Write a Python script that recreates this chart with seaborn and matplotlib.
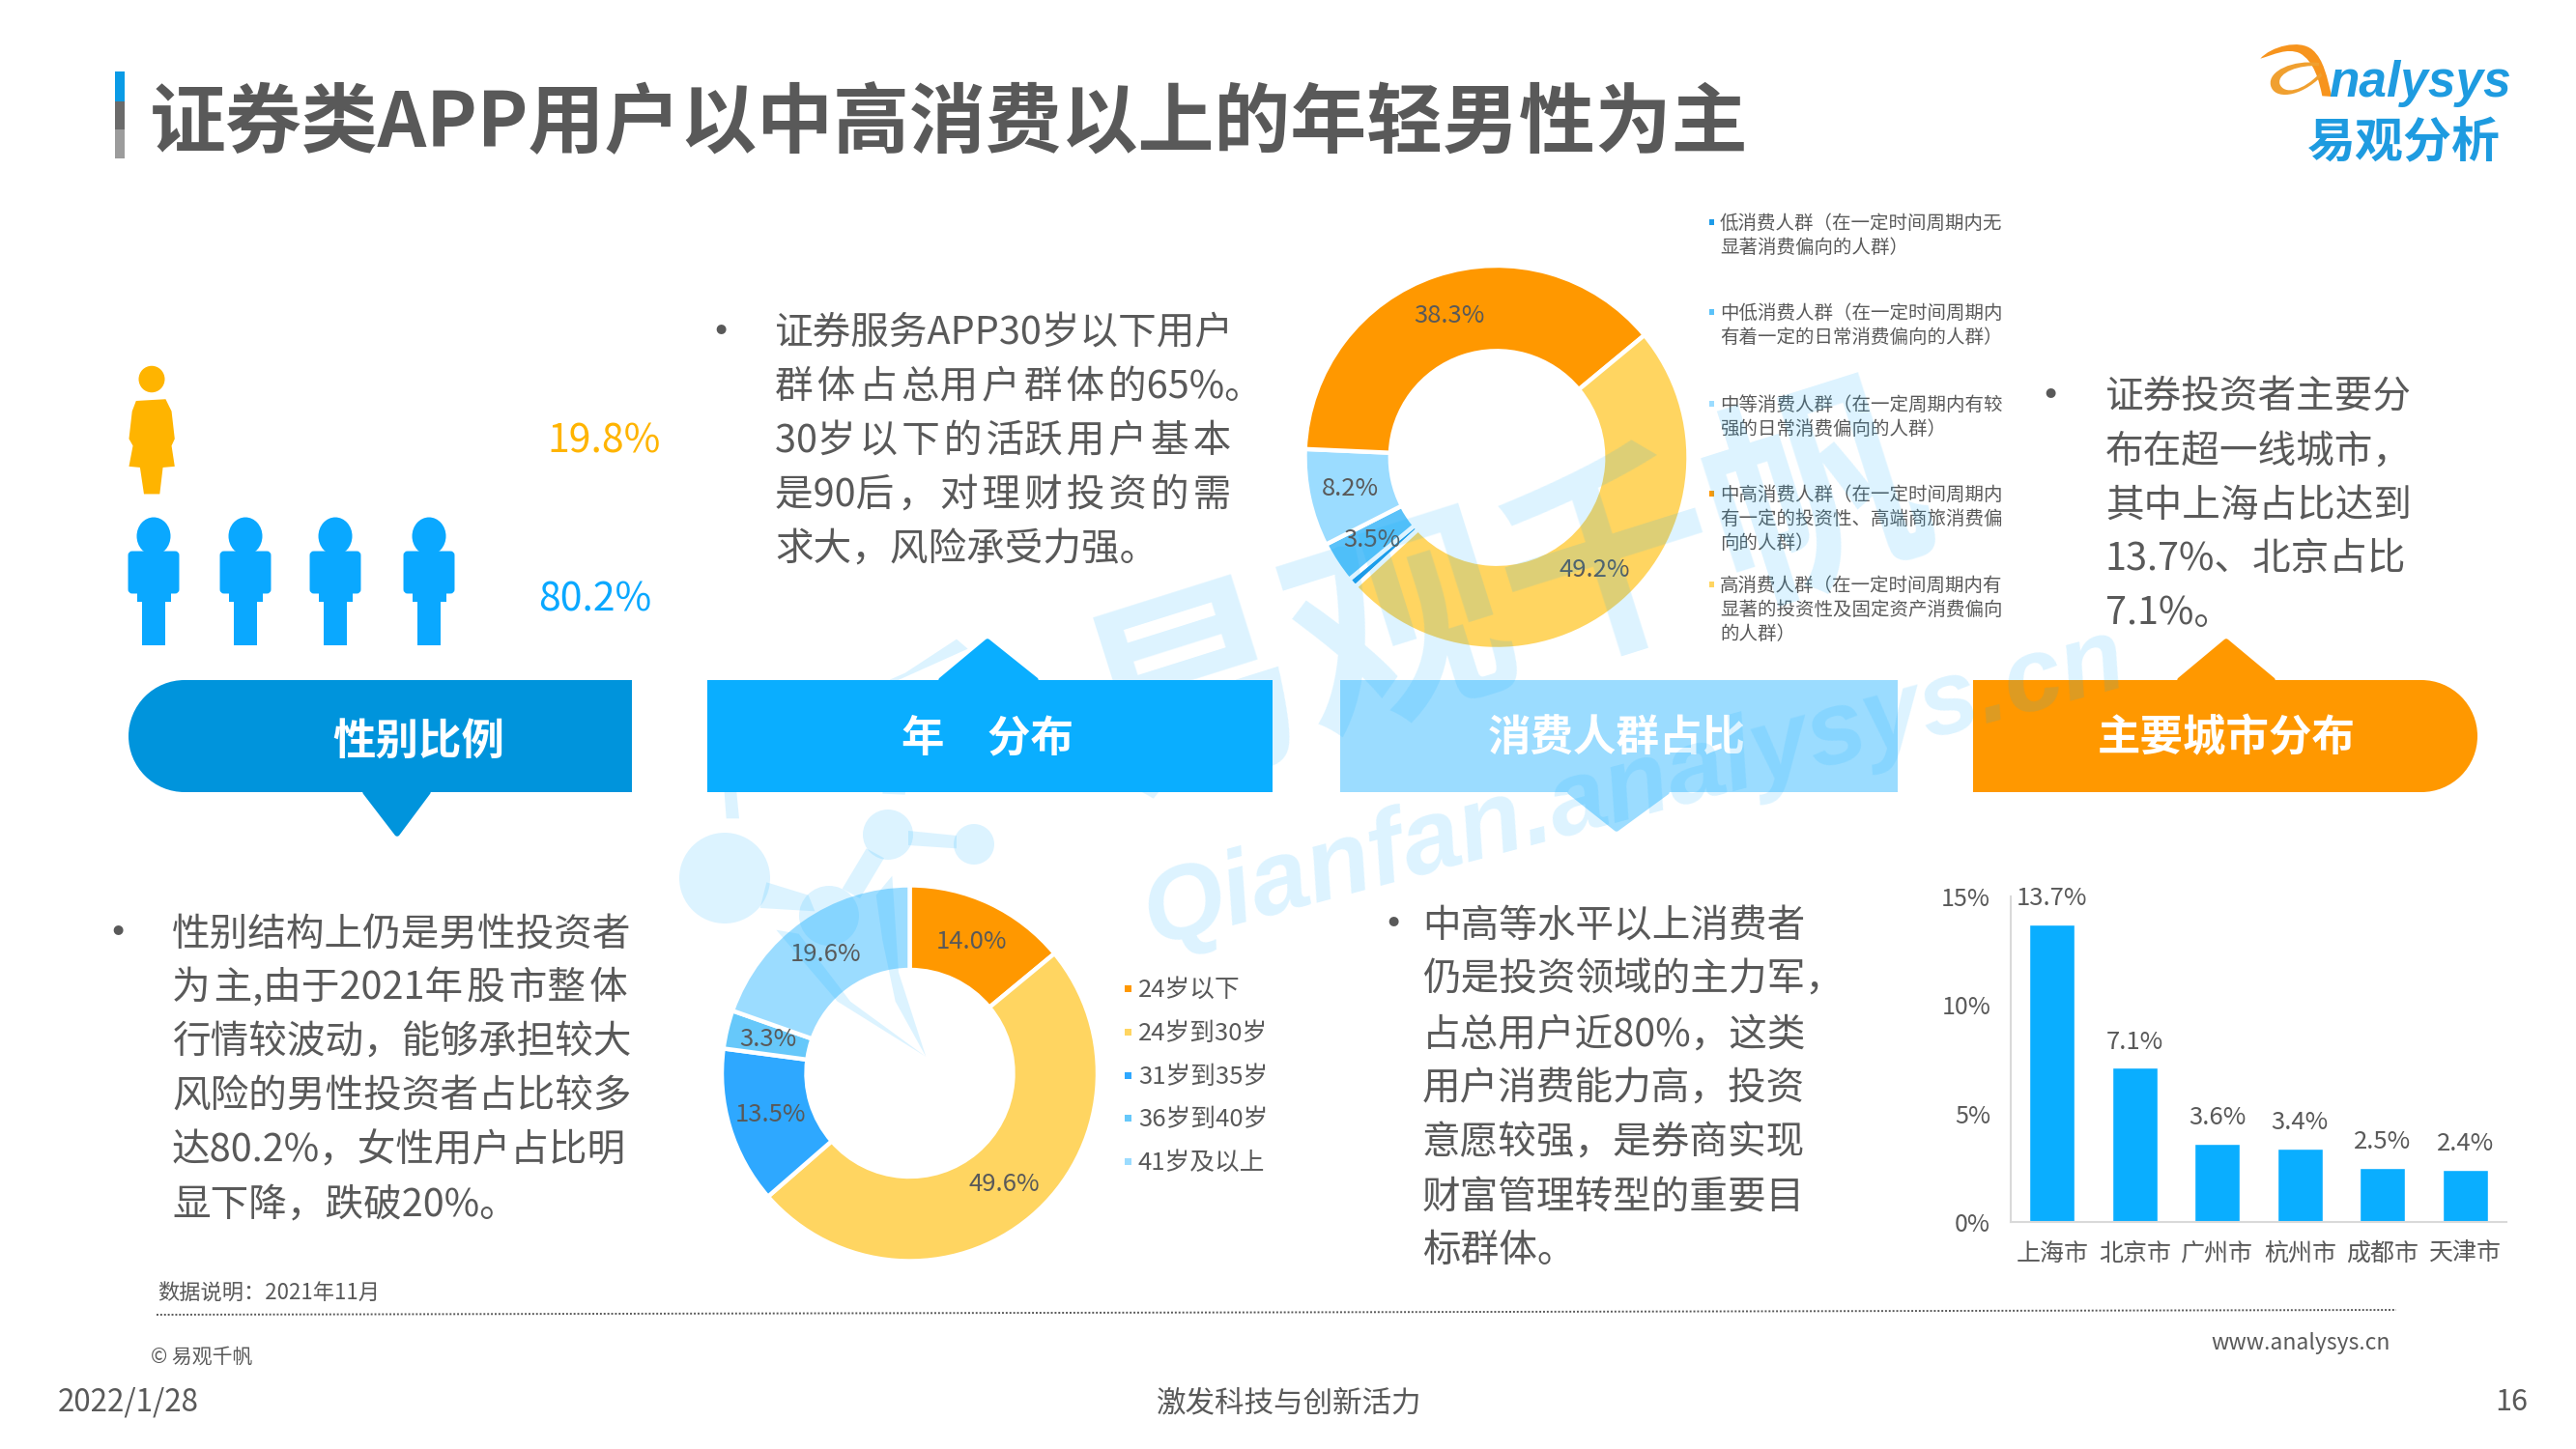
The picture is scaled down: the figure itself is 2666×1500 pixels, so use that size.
import re
import matplotlib
matplotlib.use("Agg")
import matplotlib.pyplot as plt
import seaborn as sns
import pandas as pd
from matplotlib.patches import Rectangle, Circle, Ellipse, Polygon, FancyBboxPatch, PathPatch
from matplotlib.path import Path

W, H = 2666, 1500
sns.set_theme(style="white")
plt.rcParams['font.family'] = ['Noto Sans CJK SC', 'DejaVu Sans']
plt.rcParams['axes.unicode_minus'] = False

TXT = '#595959'
BLUE = '#0AAEFF'
ORANGE = '#FF9800'

title = '证券类APP用户以中高消费以上的年轻男性为主'

age_labels = ['24岁以下', '24岁到30岁', '31岁到35岁', '36岁到40岁', '41岁及以上']
age_values = [14.0, 49.6, 13.5, 3.3, 19.6]
age_colors = ['#FF9800', '#FFD561', '#2EA8FF', '#66C8FA', '#9BDCFF']

spend_labels = ['低消费人群（在一定时间周期内无\n显著消费偏向的人群）',
                '中低消费人群（在一定时间周期内\n有着一定的日常消费偏向的人群）',
                '中等消费人群（在一定周期内有较\n强的日常消费偏向的人群）',
                '中高消费人群（在一定时间周期内\n有一定的投资性、高端商旅消费偏\n向的人群）',
                '高消费人群（在一定时间周期内有\n显著的投资性及固定资产消费偏向\n的人群）']
spend_values = [0.8, 3.5, 8.2, 38.3, 49.2]
spend_colors = ['#1E9BE8', '#5BC2F9', '#9BDCFF', '#FF9800', '#FFD561']

cities = ['上海市', '北京市', '广州市', '杭州市', '成都市', '天津市']
city_values = [13.7, 7.1, 3.6, 3.4, 2.5, 2.4]

gender_labels = ['19.8%', '80.2%']

banner_labels = ['性别比例', '年　分布', '消费人群占比', '主要城市分布']

para_gender = ['性别结构上仍是男性投资者', '为主,由于2021年股市整体', '行情较波动，能够承担较大',
               '风险的男性投资者占比较多', '达80.2%，女性用户占比明', '显下降，跌破20%。']
para_age = ['证券服务APP30岁以下用户', '群体占总用户群体的65%。', '30岁以下的活跃用户基本',
            '是90后，对理财投资的需', '求大，风险承受力强。']
para_city = ['证券投资者主要分', '布在超一线城市，', '其中上海占比达到', '13.7%、北京占比', '7.1%。']
para_spend = ['中高等水平以上消费者', '仍是投资领域的主力军，', '占总用户近80%，这类', '用户消费能力高，投资',
              '意愿较强，是券商实现', '财富管理转型的重要目', '标群体。']

fig = plt.figure(figsize=(W / 100, H / 100), dpi=100, facecolor='white')


def pixel_axes(x0, y0, x1, y1, z=1):
    return fig.add_axes([x0 / W, (H - y1) / H, (x1 - x0) / W, (y1 - y0) / H], zorder=z)


bg = pixel_axes(0, 0, W, H, 0)
bg.set_xlim(0, W)
bg.set_ylim(H, 0)
bg.axis('off')


def put(x, yc, s, size, color=TXT, ha='left', weight='normal', ax=bg, **kw):
    return ax.text(x, yc + size * 1.389 * 0.36, s, fontsize=size, color=color, ha=ha, va='baseline',
                   fontweight=weight, **kw)


def justify(s, n):
    # the source text is justified: open n of the gaps between CJK glyphs slightly
    gaps = [i for i in range(1, len(s)) if re.match(r'[\u3000-\u9fff\uff00-\uffef]', s[i - 1])
            and re.match(r'[\u3000-\u9fff\uff00-\uffef]', s[i])]
    step = len(gaps) / n
    chosen = {gaps[min(int(k * step + step / 2), len(gaps) - 1)] for k in range(n)}
    return ''.join(('\u200a' if i in chosen else '') + ch for i, ch in enumerate(s))


# title
bg.add_patch(Rectangle((119, 74), 10, 31, color='#0A9BE6', lw=0))
bg.add_patch(Rectangle((119, 105), 10, 29, color='#6B6B6B', lw=0))
bg.add_patch(Rectangle((119, 134), 10, 30, color='#9C9C9C', lw=0))
put(155, 124, title, 56.8, weight='bold')

# brand mark
sx = lambda p: [(2200 + a / 3, 20 + b / 3) for a, b in p]
top_v = sx([(418, 122), (450, 85), (540, 60), (580, 95), (615, 125), (625, 180), (640, 240), (610, 238),
            (600, 190), (585, 130), (540, 105), (500, 88), (460, 110), (418, 122)])
top_c = [Path.MOVETO] + [Path.CURVE4] * 6 + [Path.LINETO] + [Path.CURVE4] * 6
bg.add_patch(PathPatch(Path(top_v, top_c), fc='#F7941D', lw=0))
loop_v = sx([(600, 135), (520, 125), (440, 160), (450, 205), (460, 250), (540, 245), (610, 175), (605, 165),
             (550, 225), (490, 235), (478, 200), (470, 165), (540, 140), (600, 145)])
bg.add_patch(PathPatch(Path(loop_v, top_c), fc='#F0A030', lw=0))
bg.text(2410, 100, 'nalysys', fontsize=37, family='Liberation Sans', style='italic', fontweight='bold',
        color='#1E9BE0', ha='left', va='baseline')
put(2488, 145, '易观分析', 36, color='#1E9BE0', ha='center', weight='bold')

# gender pictograms
fx = lambda a: 100 + a / 2.45
fy = lambda b: 340 + b / 2.8
bg.add_patch(Ellipse((157, 392.5), 27, 27.5, color='#FFB400', lw=0))
female = [(100, 210), (175, 205), (190, 240), (198, 320), (190, 340), (198, 400), (168, 403), (160, 480),
          (120, 480), (110, 403), (82, 400), (92, 340), (82, 320), (90, 240)]
bg.add_patch(Polygon([(fx(a), fy(b)) for a, b in female], closed=True, fc='#FFB400', lw=0))
for cx in [159, 254, 347, 444]:
    c = '#0AA8FF'
    bg.add_patch(Ellipse((cx, 555), 35, 39, color=c, lw=0))
    bg.add_patch(FancyBboxPatch((cx - 23, 574), 46, 37, boxstyle='round,pad=0,rounding_size=1', ec=c, fc=c, lw=5))
    bg.add_patch(Rectangle((cx - 17.5, 600), 35, 23, color=c, lw=0))
    bg.add_patch(Rectangle((cx - 12, 620), 24, 48, color=c, lw=0))
put(566, 454, gender_labels[0], 29.5, color='#FFB400')
put(557, 618, gender_labels[1], 29.5, color='#0AA8FF')

# banners
TOP, BOT = 704, 820
c0, c1, c2, c3 = '#0094DC', BLUE, '#9BDCFF', ORANGE


def pointer(pts, c):
    bg.add_patch(Polygon(pts, fc=c, ec=c, lw=4, joinstyle='round'))


bg.add_patch(Circle((191, 762), 58, color=c0, lw=0))
bg.add_patch(Rectangle((191, TOP), 654 - 191, BOT - TOP, color=c0, lw=0))
pointer([(378, BOT), (443, BOT), (411, 863)], c0)
bg.add_patch(Rectangle((732, TOP), 1317 - 732, BOT - TOP, color=c1, lw=0))
pointer([(974, TOP), (1072, TOP), (1022, 664)], c1)
bg.add_patch(Rectangle((1387, TOP), 1964 - 1387, BOT - TOP, color=c2, lw=0))
pointer([(1625, BOT), (1725, BOT), (1673, 858)], c2)
bg.add_patch(Rectangle((2042, TOP), 2506 - 2042, BOT - TOP, color=c3, lw=0))
bg.add_patch(Circle((2506, 762), 58, color=c3, lw=0))
pointer([(2256, TOP), (2352, TOP), (2304, 664)], c3)
for x, y, s in zip([433, 1022, 1673, 2304], [765, 761, 761, 761], banner_labels):
    put(x, y, s, 32, color='white', ha='center', weight='bold')


def paragraph(lines, bullet_x, x, ys, stretched=None):
    stretched = stretched or {}
    put(bullet_x, ys[0], '•', 34, ha='center')
    for i, (y, s) in enumerate(zip(ys, lines)):
        put(x, y, justify(s, stretched[i]) if i in stretched else s, 28.5)


paragraph(para_gender, 122, 178, [964, 1020, 1076, 1132, 1188, 1244], stretched={1: 4})
paragraph(para_age, 746, 802, [342, 398, 454, 510, 566], stretched={1: 7, 2: 8, 3: 8})
paragraph(para_city, 2122, 2179, [408, 464, 520, 576, 632])
paragraph(para_spend, 1442, 1472, [955, 1011, 1068, 1124, 1180, 1236, 1292])

# spend donut
ax = pixel_axes(1350.5, 274.5, 1747.5, 672.5, 2)
ax.pie(spend_values, colors=spend_colors, startangle=222.5, counterclock=False, radius=1,
       wedgeprops=dict(width=0.445, edgecolor='white', linewidth=3.2),
       autopct=lambda p: f'{p:.1f}%' if p > 1 else '', pctdistance=0.78,
       textprops=dict(fontsize=18.5, color=TXT))
ax.set_xlim(-1, 1)
ax.set_ylim(-1, 1)

# spend legend
spend_rows = [230, 323, 418, 511, 605]
for y, s, c in zip(spend_rows, spend_labels, spend_colors):
    bg.add_patch(Rectangle((1769, y - 3), 5, 6, color=c, lw=0))
    for i, part in enumerate(s.split('\n')):
        put(1780, y + i * 25, part, 14)

# age donut
ax = pixel_axes(747, 916.5, 1136, 1305.5, 2)
ax.pie(age_values, colors=age_colors, startangle=90, counterclock=False, radius=1,
       wedgeprops=dict(width=0.45, edgecolor='white', linewidth=3.2),
       autopct=lambda p: f'{p:.1f}%', pctdistance=0.775,
       textprops=dict(fontsize=18.5, color=TXT))
ax.set_xlim(-1, 1)
ax.set_ylim(-1, 1)

# age legend
age_rows = [1023, 1068, 1113, 1157, 1202]
for y, s, c in zip(age_rows, age_labels, age_colors):
    bg.add_patch(Rectangle((1164, y - 3.5), 7, 7, color=c, lw=0))
    put(1178, y, s, 18.5)

# city bars
ax = pixel_axes(2081, 928, 2594, 1265, 2)
df = pd.DataFrame({'city': cities, 'share': city_values})
sns.barplot(data=df, x='city', y='share', color=BLUE, saturation=1, width=0.55, ax=ax)
ax.set_ylim(0, 15)
ax.set_xlim(-0.5, 5.5)
ax.set_yticks([0, 5, 10, 15])
ax.set_yticklabels(['0%', '5%', '10%', '15%'])
ax.set_xlabel('')
ax.set_ylabel('')
ax.tick_params(axis='both', length=0, labelsize=18, labelcolor=TXT)
ax.tick_params(axis='y', pad=15)
ax.tick_params(axis='x', pad=14.5)
sns.despine(ax=ax)
for name in ['left', 'bottom']:
    ax.spines[name].set_color('#D9D9D9')
    ax.spines[name].set_linewidth(1.5)
ax.patch.set_alpha(0)
lab = ax.bar_label(ax.containers[0], labels=[f'{v:.1f}%' for v in city_values], padding=10, fontsize=18.5,
                   color=TXT)
for t in lab:
    t.set_clip_on(False)

# footer
put(163, 1338, '数据说明：2021年11月', 16)
bg.plot([162, 2480], [1361, 1356], color='#595959', lw=1.4, ls=(0, (1, 1)))
put(156, 1403, '© 易观千帆', 15)
put(2474, 1389, 'www.analysys.cn', 16.5, ha='right')
put(60, 1449, '2022/1/28', 22.5)
put(1334, 1450, '激发科技与创新活力', 22, ha='center')
put(2616, 1449, '16', 22, ha='right')

# watermark layer
wm = pixel_axes(0, 0, W, H, 5)
wm.set_xlim(0, W)
wm.set_ylim(H, 0)
wm.axis('off')
wm.patch.set_alpha(0)
WM = '#0AAEFF'
A = 0.14
wm.text(1560, 625, '易观千帆', fontsize=163, fontweight='bold', color=WM, alpha=A, rotation=17.5, ha='center',
        va='center', rotation_mode='anchor')
wm.text(1692, 816, 'Qianfan.analysys.cn', fontsize=78, family='Liberation Sans', style='italic',
        fontweight='bold', color=WM, alpha=A, rotation=15, ha='center', va='center', rotation_mode='anchor')
zx = lambda p: [(680 + a / 3, 640 + b / 3) for a, b in p]
wm.add_patch(Circle((750, 909), 47, color=WM, alpha=A, lw=0))
wm.add_patch(Circle((919, 864), 26, color=WM, alpha=A, lw=0))
wm.add_patch(Circle((1008, 874), 21, color=WM, alpha=A, lw=0))
wm.add_patch(Circle((858, 948), 31, color=WM, alpha=A, lw=0))
for shape in [
    [(340, 820), (470, 860), (490, 910), (320, 900)],
    [(575, 840), (650, 715), (705, 745), (630, 870)],
    [(780, 660), (930, 675), (930, 715), (780, 705)],
    [(370, 968), (440, 980), (600, 1190), (835, 1362), (560, 1190)],
    [(730, 800), (680, 860), (700, 1000), (740, 1190), (835, 1362), (750, 1100)],
    [(215, 622), (255, 622), (240, 470), (620, 250), (965, 95), (930, 65), (770, 170), (200, 420)],
    [(700, 545), (770, 548), (780, 470), (710, 470)],
]:
    wm.add_patch(Polygon(zx(shape), fc=WM, alpha=A, lw=0))

fig.savefig('out.png', dpi=100)
